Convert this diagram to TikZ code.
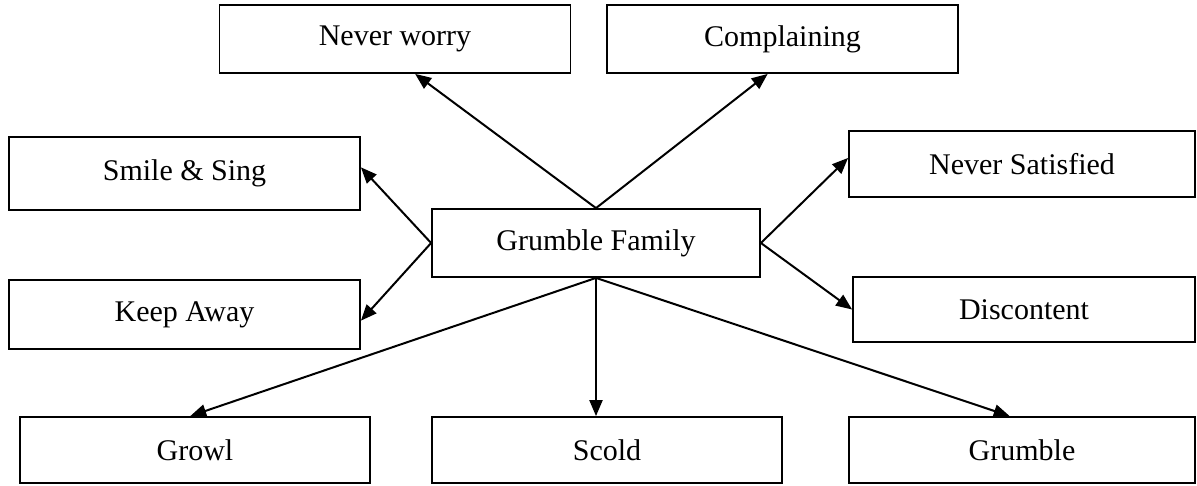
\documentclass[tikz,border=0pt]{standalone}
\usepackage{fontspec}
\setmainfont{Liberation Serif}
\usetikzlibrary{arrows.meta}
\def\bigtext{\fontsize{30}{36}\selectfont}

\begin{document}
\begin{tikzpicture}[x=1pt, y=-1pt,
        box/.style={rectangle, draw, line width=1.8pt, inner sep=0pt, minimum width=351pt, minimum height=68pt, font=\bigtext},
        link/.style={line width=2pt, -{Triangle[length=16pt, width=13pt]}}]
        \useasboundingbox (0,0) rectangle (1197,485);
        \node[box] (nw) at (395,39) {Never worry};
        \node[box] (co) at (782.5,39) {Complaining};
        \node[box, minimum height=73pt] (ss) at (184.5,173.5) {Smile \& Sing};
        \node[box, minimum height=69pt] (ka) at (184.5,314.5) {Keep Away};
        \node[box, minimum width=328pt] (gf) at (596,243) {Grumble Family};
        \node[box, minimum width=346pt, minimum height=66pt] (ns) at (1022,164) {Never Satisfied};
        \node[box, minimum width=342pt, minimum height=65pt] (di) at (1024,309.5) {Discontent};
        \node[box, minimum width=350pt, minimum height=66pt] (gr) at (195,450) {Growl};
        \node[box, minimum width=350pt, minimum height=66pt] (sc) at (607,450) {Scold};
        \node[box, minimum width=346pt, minimum height=66pt] (gb) at (1022,450) {Grumble};
        \foreach \a/\b in {gf.north/nw.-60, gf.north/co.-113, gf.west/ss.2, gf.west/ka.-2,
                gf.east/ns.178, gf.east/di.west, gf.south/gr.98, gf.south/gb.110}{
        \draw[link] (\a) -- (\b);
        }
        \draw[link] (gf.south) -- (gf.south |- sc.north);
      \end{tikzpicture}
\end{document}
